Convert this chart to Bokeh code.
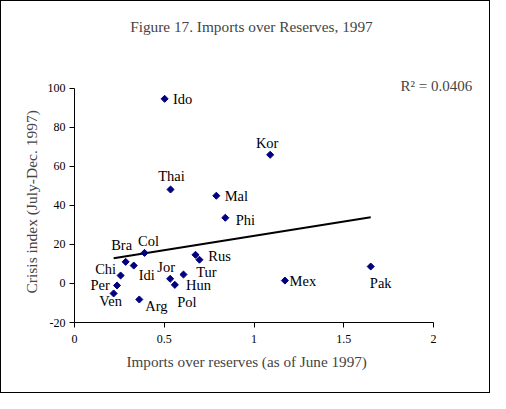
import numpy as np
from bokeh.plotting import figure
from bokeh.models import ColumnDataSource, FixedTicker, Label, Range1d, Title
from bokeh.core.properties import value
from bokeh.embed import file_html
from bokeh.resources import INLINE

# ---- data ----
countries = ["Ido", "Thai", "Kor", "Mal", "Phi", "Bra", "Idi", "Chi", "Per", "Ven",
             "Arg", "Jor", "Pol", "Hun", "Rus", "Tur", "Col", "Mex", "Pak"]
imports_over_reserves = [0.502, 0.535, 1.09, 0.79, 0.84, 0.285, 0.33, 0.257, 0.237, 0.218,
                         0.361, 0.533, 0.559, 0.607, 0.674, 0.696, 0.39, 1.172, 1.65]
crisis_index = [94.7, 48.2, 66.0, 45.0, 33.7, 11.1, 9.2, 4.1, -1.0, -5.1,
                -8.2, 2.4, -0.7, 4.6, 14.7, 12.2, 15.7, 1.5, 8.7]
x_ticks = [0, 0.5, 1, 1.5, 2]
x_tick_labels = ["0", "0.5", "1", "1.5", "2"]
y_ticks = [-20, 0, 20, 40, 60, 80, 100]
y_tick_labels = ["-20", "0", "20", "40", "60", "80", "100"]
title_text = "Figure 17. Imports over Reserves, 1997"
x_title = "Imports over reserves  (as of June 1997)"
y_title = "Crisis index (July-Dec. 1997)"
r2_text = "R\u00b2 = 0.0406"

# label placement (pixels, relative to the point; positive dy = down)
label_dx = [18, 1, -3, 20, 20, -4, 13, -15, -17, -3, 17, -4, 12, 15, 24, 7, 4, 18, 10]
label_dy = [0, -13, -12, 0, 2, -17, 9, -7, 0, 8, 7, -12, 17, 10, 1, 12, -12, 0, 16]

SERIF = "Liberation Serif"

# frame spans the top of the canvas so the title and R^2 can sit inside it;
# the axes themselves are bounded to the tick range
p = figure(width=490, height=393, x_range=Range1d(0, 2.256), y_range=Range1d(-20, 144.6),
           output_backend="svg", toolbar_location=None,
           min_border_left=73, min_border_right=12, min_border_top=0, min_border_bottom=72)
p.title.visible = False
p.grid.visible = False
p.outline_line_color = None
p.background_fill_color = "white"
p.border_fill_color = "white"
p.styles = {"border": "1px solid black"}

for ax, ticks, labels in ((p.xaxis[0], x_ticks, x_tick_labels), (p.yaxis[0], y_ticks, y_tick_labels)):
    ax.ticker = FixedTicker(ticks=ticks)
    ax.bounds = (min(ticks), max(ticks))
    ax.major_label_overrides = {t: l for t, l in zip(ticks, labels)}
    ax.minor_tick_line_color = None
    ax.major_tick_in = 0
    ax.major_tick_out = 5
    ax.axis_line_color = "black"
    ax.major_tick_line_color = "black"
    ax.major_label_text_font = SERIF
    ax.major_label_text_font_size = "12px"
    ax.major_label_text_color = "black"
p.xaxis.major_label_standoff = 7
p.yaxis.major_label_standoff = 4

yt = Title(text=y_title, text_font=SERIF, text_font_size="15.5px", text_font_style="normal",
           align="left", offset=29, standoff=10)
p.add_layout(yt, "left")
xt = Title(text=x_title, text_font=SERIF, text_font_size="15.2px", text_font_style="normal",
           align="left", offset=52, standoff=11)
p.add_layout(xt, "below")

# trend line from least squares on the data
xs = np.array(imports_over_reserves)
ys = np.array(crisis_index)
slope, intercept = np.polyfit(xs, ys, 1)
tx = np.array([xs.min(), xs.max()])
p.line(tx, slope * tx + intercept, line_color="black", line_width=2)

src = ColumnDataSource(dict(x=imports_over_reserves, y=crisis_index, name=countries,
                            dx=label_dx, dy=label_dy))
p.scatter("x", "y", source=src, marker="square", size=5, angle=np.pi / 4,
          fill_color="#000080", line_color="#000080")
p.text("x", "y", text="name", source=src, x_offset="dx", y_offset="dy",
       text_font=value(SERIF), text_font_size="14.5px", text_align="center",
       text_baseline="middle", text_color="black")

p.add_layout(Label(x=0.31, y=131.8, text=title_text,
                   text_font=SERIF, text_font_size="15.3px", text_align="left",
                   text_baseline="middle"))
p.add_layout(Label(x=1.816, y=101.5, text=r2_text,
                   text_font=SERIF, text_font_size="15px", text_align="left",
                   text_baseline="middle"))

open("out.html", "w").write(file_html(p, INLINE))
